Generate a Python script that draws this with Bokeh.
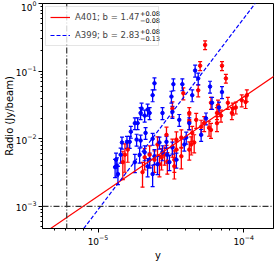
import numpy as np
from bokeh.plotting import figure
from bokeh.models import (Range1d, Span, Whisker, ColumnDataSource, Legend,
                          LegendItem, Label, TeeHead, FixedTicker, BoxAnnotation)
from bokeh.embed import file_html
from bokeh.resources import INLINE

# ---- A399 (blue) ----
a399_x = [2.44e-5, 3.29e-5, 3.79e-5, 2.37e-5, 3.19e-5, 4.43e-5, 4.64e-5, 4.87e-5, 5.87e-5, 7.09e-5,
          1.99e-5, 2.19e-5, 1.96e-5, 2.09e-5, 2.26e-5, 2.77e-5, 3.24e-5, 1.79e-5, 1.87e-5, 1.68e-5,
          2.12e-5, 1.58e-5, 1.65e-5, 1.84e-5, 1.96e-5, 1.46e-5, 2.37e-5, 5.51e-5, 6.06e-5, 5.10e-5,
          3.61e-5, 4.23e-5, 4.03e-5, 3.91e-5, 3.24e-5, 2.95e-5, 6.76e-5, 1.31e-5, 1.35e-5, 1.37e-5,
          1.33e-5, 1.43e-5, 1.93e-5, 2.09e-5, 2.26e-5, 2.44e-5, 2.56e-5, 2.77e-5, 2.99e-5, 3.09e-5,
          2.19e-5, 1.79e-5, 2.37e-5, 2.64e-5, 3.45e-5]
a399_y = [0.066, 0.064, 0.064, 0.044, 0.042, 0.044, 0.102, 0.078, 0.059, 0.049,
          0.028, 0.027, 0.024, 0.022, 0.024, 0.024, 0.025, 0.017, 0.017, 0.0127,
          0.0122, 0.0090, 0.0090, 0.0097, 0.0094, 0.0088, 0.0100, 0.020, 0.034, 0.0114,
          0.019, 0.017, 0.0104, 0.0082, 0.0074, 0.0090, 0.029, 0.0038, 0.0040, 0.0030,
          0.0049, 0.0058, 0.0058, 0.0063, 0.0049, 0.0055, 0.0042, 0.0063, 0.0058, 0.0045,
          0.0039, 0.0045, 0.0030, 0.0088, 0.0049]
a399_relerr = [0.2] * 37 + [0.3, 0.3, 0.3, 0.25, 0.25, 0.25, 0.25, 0.25, 0.25, 0.3,
                            0.25, 0.25, 0.25, 0.3, 0.3, 0.35, 0.2, 0.25]

# ---- A401 (red) ----
a401_x = [5.43e-5, 5.02e-5, 7.09e-5, 7.54e-5, 4.87e-5, 3.85e-5, 7.78e-5, 8.42e-5, 8.29e-5, 8.82e-5,
          9.69e-5, 1.05e-4, 1.03e-4, 6.98e-5, 5.96e-5, 6.66e-5, 6.55e-5, 4.23e-5, 4.23e-5, 5.35e-5,
          5.96e-5, 6.55e-5, 4.43e-5, 4.57e-5, 4.36e-5, 3.45e-5, 3.45e-5, 3.73e-5, 3.34e-5, 3.24e-5,
          4.72e-5, 5.10e-5, 5.78e-5, 3.24e-5, 3.73e-5, 4.23e-5, 2.73e-5, 2.99e-5, 3.34e-5, 2.02e-5,
          1.53e-5, 1.48e-5, 1.60e-5, 2.26e-5, 2.44e-5, 2.64e-5, 2.86e-5, 2.09e-5, 2.56e-5, 2.95e-5]
a401_y = [0.244, 0.120, 0.120, 0.078, 0.052, 0.047, 0.034, 0.028, 0.024, 0.029,
          0.037, 0.044, 0.035, 0.022, 0.034, 0.031, 0.024, 0.024, 0.018, 0.017,
          0.0135, 0.017, 0.0122, 0.0088, 0.0082, 0.0097, 0.0069, 0.0055, 0.0049, 0.0076,
          0.019, 0.015, 0.0145, 0.028, 0.0104, 0.0069, 0.0053, 0.0046, 0.0039, 0.0032,
          0.0058, 0.0045, 0.0069, 0.0058, 0.0049, 0.0042, 0.0058, 0.0053, 0.0082, 0.0114]
a401_relerr = [0.15, 0.15, 0.15, 0.15, 0.2, 0.2, 0.2, 0.2, 0.2, 0.2,
               0.2, 0.2, 0.2, 0.2, 0.2, 0.2, 0.2, 0.2, 0.25, 0.25,
               0.25, 0.25, 0.25, 0.3, 0.3, 0.3, 0.3, 0.35, 0.35, 0.3,
               0.25, 0.25, 0.25, 0.25, 0.3, 0.3, 0.35, 0.35, 0.35, 0.4,
               0.45, 0.45, 0.35, 0.35, 0.35, 0.35, 0.3, 0.35, 0.3, 0.3]

# ---- power-law fits: log10(y) = log_norm + b*log10(x) ----
fit_x = [4.0e-6, 2.0e-4]
a401_b, a401_lognorm = 1.47, 4.50
a399_b, a399_lognorm = 2.83, 11.10

# ---- limits (dash-dot lines) ----
x_limit = 6.1e-6
y_limit = 1.0e-3

x_major = [1e-5, 1e-4]
y_major = [1e-3, 1e-2, 1e-1, 1.0]

FONT = "DejaVu Sans"
FW, FH = 231, 225

p = figure(frame_width=FW, frame_height=FH,
           x_axis_type="log", y_axis_type="log",
           x_range=Range1d(4.16e-6, 1.6e-4), y_range=Range1d(4.7e-4, 1.0),
           output_backend="svg", toolbar_location=None,
           min_border_left=30, min_border_right=3, min_border_top=3, min_border_bottom=27)

p.xgrid.visible = False
p.ygrid.visible = False
p.outline_line_color = "black"
p.outline_line_width = 1
p.background_fill_color = "white"

x_minor = [m * d for d in (1e-6, 1e-5, 1e-4) for m in range(2, 10)]
y_minor = [m * d for d in (1e-4, 1e-3, 1e-2, 1e-1) for m in range(2, 10)]
p.xaxis.ticker = FixedTicker(ticks=x_major, minor_ticks=x_minor)
p.yaxis.ticker = FixedTicker(ticks=y_major, minor_ticks=y_minor)

for ax in (p.xaxis[0], p.yaxis[0]):
    ax.major_tick_out = 4
    ax.major_tick_in = 0
    ax.minor_tick_out = 2
    ax.minor_tick_in = 0
    ax.axis_line_color = "black"
    ax.major_tick_line_color = "black"
    ax.minor_tick_line_color = "black"
    ax.major_label_text_font = FONT
    ax.major_label_text_font_size = "9px"
    ax.major_label_text_color = "black"
    ax.axis_label_text_font = FONT
    ax.axis_label_text_font_size = "10px"
    ax.axis_label_text_font_style = "normal"
    ax.axis_label_text_color = "black"
    ax.major_label_standoff = 2

p.xaxis.axis_label_standoff = 2
p.yaxis.axis_label_standoff = -2
p.xaxis.axis_label = "y"
p.yaxis.axis_label = "Radio (Jy/beam)"

# limit lines
p.add_layout(Span(location=x_limit, dimension="height", line_color="#333333",
                  line_width=1.2, line_dash="6 2 1 2"))
p.add_layout(Span(location=y_limit, dimension="width", line_color="#333333",
                  line_width=1.2, line_dash="6 2 1 2"))

def add_points(xs, ys, rel, color):
    ys = np.array(ys)
    err = ys * np.array(rel)
    src = ColumnDataSource(dict(x=xs, y=ys, lo=ys - err, hi=ys + err))
    p.add_layout(Whisker(source=src, base="x", lower="lo", upper="hi", dimension="height",
                         line_color=color, line_width=1.3,
                         upper_head=TeeHead(size=4, line_color=color, line_width=1.2),
                         lower_head=TeeHead(size=4, line_color=color, line_width=1.2)))
    p.scatter("x", "y", source=src, size=3.5, color=color)

add_points(a401_x, a401_y, a401_relerr, "red")
add_points(a399_x, a399_y, a399_relerr, "blue")

fx = np.array(fit_x)
r_red = p.line(fx, 10 ** (a401_lognorm + a401_b * np.log10(fx)), line_color="red", line_width=1.2)
r_blue = p.line(fx, 10 ** (a399_lognorm + a399_b * np.log10(fx)), line_color="blue",
                line_width=1.2, line_dash="4 2")

# legend geometry (screen px, relative to the frame)
L_MARGIN, L_PAD, L_GW, L_GH, L_LW, L_STANDOFF, L_SPACING = 3, 4, 20, 12, 79, 5, 6
L_W = 2 * L_PAD + L_GW + L_STANDOFF + L_LW
L_H = 2 * L_PAD + 2 * L_GH + L_SPACING

p.add_layout(BoxAnnotation(left=L_MARGIN, right=L_MARGIN + L_W,
                           top=FH - L_MARGIN, bottom=FH - L_MARGIN - L_H,
                           left_units="screen", right_units="screen",
                           top_units="screen", bottom_units="screen",
                           fill_color="white", fill_alpha=0.8, line_color=None))

legend = Legend(items=[LegendItem(label="A401; b = 1.47", renderers=[r_red]),
                       LegendItem(label="A399; b = 2.83", renderers=[r_blue])],
                location="top_left", label_text_font=FONT, label_text_font_size="8.5px",
                glyph_width=L_GW, glyph_height=L_GH, label_height=L_GH, label_width=L_LW,
                label_standoff=L_STANDOFF, padding=L_PAD, spacing=L_SPACING, margin=L_MARGIN,
                border_line_color="#cccccc", border_line_width=1,
                background_fill_alpha=0.0)
p.add_layout(legend)

scripts = [("+0.08", 97.5, FH - 10), ("\u22120.08", 97.5, FH - 16.7),
           ("+0.08", 97.5, FH - 28), ("\u22120.13", 97.5, FH - 34.7)]
for txt, sx, sy in scripts:
    p.add_layout(Label(x=sx, y=sy, x_units="screen", y_units="screen", text=txt,
                       text_font=FONT, text_font_size="6.5px", text_baseline="middle",
                       text_color="black", level="overlay"))

open("out.html", "w").write(file_html(p, INLINE))
